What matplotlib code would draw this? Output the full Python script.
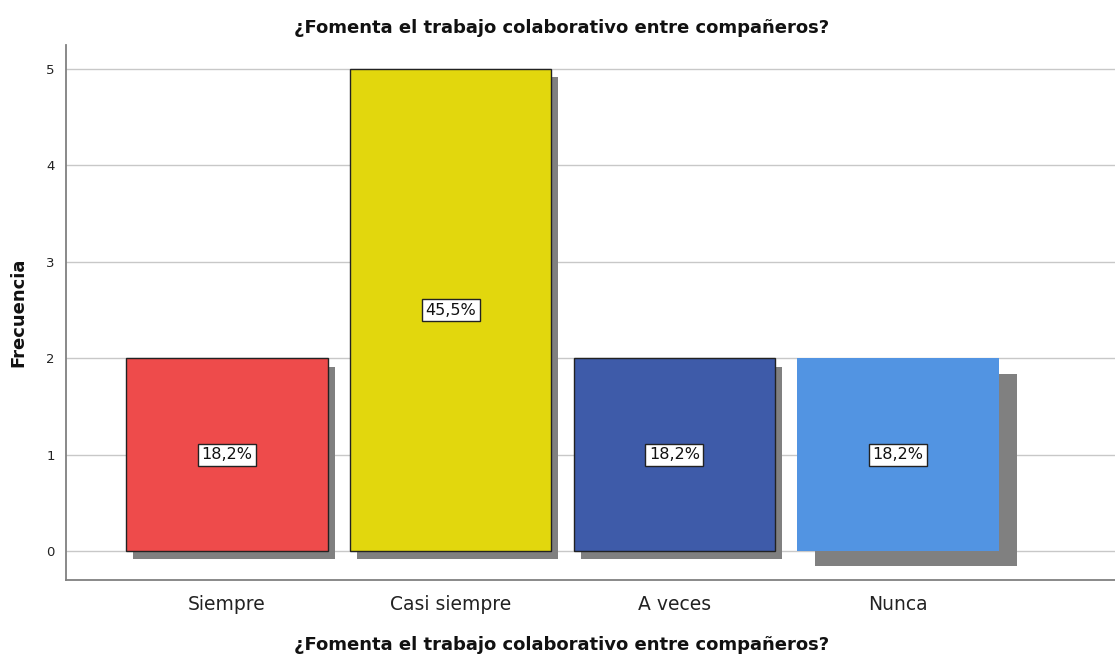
import matplotlib.pyplot as plt
import matplotlib.patheffects as pe

# data
categories = ['Siempre', 'Casi siempre', 'A veces', 'Nunca']
frequencies = [2, 5, 2, 2]
percent_labels = ['18,2%', '45,5%', '18,2%', '18,2%']
colors = ['#EE4B4B', '#E2D70D', '#3E5BA9', '#5294E2']
title = '¿Fomenta el trabajo colaborativo entre compañeros?'

plt.rcParams['font.family'] = ['DejaVu Sans']

fig = plt.figure(figsize=(11.15, 6.57), dpi=100)
ax = fig.add_axes([0.0592, 0.1172, 0.9408, 0.8143])

# shadow offsets in points (last bar has a bigger one in the original)
shadow_offsets = [(5, -6), (5, -6), (5, -6), (13, -11)]
edge_colors = ['#222222', '#222222', '#222222', 'none']

x = range(len(categories))
for i in x:
    ax.bar(i, frequencies[i], width=0.9, color=colors[i],
           edgecolor=edge_colors[i], linewidth=1.0, zorder=3,
           path_effects=[pe.SimplePatchShadow(offset=shadow_offsets[i],
                                              shadow_rgbFace='#808080',
                                              alpha=1.0, rho=1.0),
                         pe.Normal()])
    ax.text(i, frequencies[i] / 2, percent_labels[i], ha='center', va='center',
            fontsize=11.5, color='#111111', zorder=5,
            bbox=dict(boxstyle='square,pad=0.22', facecolor='white',
                      edgecolor='#222222', linewidth=1.0))

ax.set_xlim(-0.72, 3.97)
ax.set_ylim(-0.3, 5.25)
ax.set_yticks(range(0, 6))
ax.set_xticks(list(x))
ax.set_xticklabels(categories, fontsize=13.5)
ax.tick_params(axis='x', length=0, pad=11, colors='#222222')
ax.tick_params(axis='y', length=0, pad=8, labelsize=9.5, colors='#222222')
ax.yaxis.grid(True, color='#C8C8C8', linewidth=1.0, zorder=0)
ax.set_axisbelow(True)

for side in ['top', 'right']:
    ax.spines[side].set_visible(False)
for side in ['left', 'bottom']:
    ax.spines[side].set_color('#808080')
    ax.spines[side].set_linewidth(1.3)

fig.text(0.504, 0.957, title, ha='center', va='center',
         fontsize=13, fontweight='bold', color='#111111')
fig.text(0.504, 0.018, title, ha='center', va='center',
         fontsize=13, fontweight='bold', color='#111111')
ax.set_ylabel('Frecuencia', fontsize=13, fontweight='bold', labelpad=14,
              color='#111111')

plt.savefig('out.png', dpi=100)
plt.close()
